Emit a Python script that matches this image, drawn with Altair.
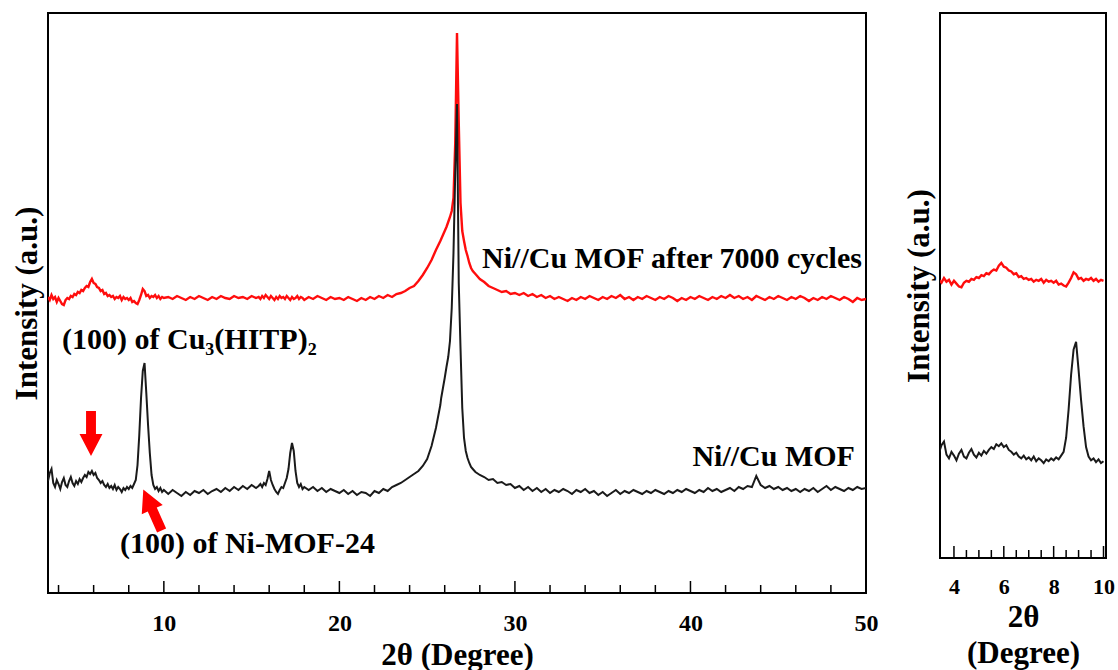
import altair as alt
import pandas as pd

FONT = "Liberation Serif"

# ---------------- data (intensity in arbitrary units) ----------------
x_a = [3.4, 3.5, 3.6, 3.7, 3.8, 3.9, 4.0, 4.1, 4.2, 4.3, 4.4, 4.5, 4.6, 4.7, 4.8, 4.9,
       5.0, 5.1, 5.2, 5.3, 5.4, 5.5, 5.6, 5.7, 5.8, 5.9, 6.0, 6.1, 6.2, 6.3, 6.4, 6.5,
       6.6, 6.7, 6.8, 6.9, 7.0, 7.1, 7.2, 7.3, 7.4, 7.5, 7.6, 7.7, 7.8, 7.9, 8.0, 8.1,
       8.2, 8.3, 8.4, 8.5, 8.6, 8.7, 8.8, 8.9, 9.0, 9.1, 9.2, 9.3, 9.4, 9.5, 9.6, 9.7,
       9.8, 9.9, 10.0]
black_a = [112, 120, 124, 110, 106, 113, 109, 104, 111, 115, 108, 106, 112, 116, 110, 107,
           112, 109, 114, 111, 115, 118, 116, 121, 119, 122, 118, 120, 115, 113, 110, 112,
           108, 106, 109, 105, 107, 104, 108, 103, 106, 104, 101, 105, 103, 106, 104, 107,
           105, 109, 113, 128, 158, 195, 222, 230, 200, 168, 140, 118, 108, 104, 106, 102,
           105, 101, 103]
red_a = [296, 293, 298, 294, 296, 291, 295, 292, 289, 288, 293, 295, 294, 297, 296, 299,
         298, 301, 300, 303, 302, 305, 307, 306, 311, 314, 310, 309, 306, 305, 302, 303,
         299, 300, 297, 298, 296, 297, 294, 296, 295, 297, 293, 296, 294, 295, 293, 295,
         291, 292, 290, 289, 293, 298, 304, 302, 297, 298, 295, 297, 296, 298, 295, 297,
         294, 296, 295]

x_b = [10.25, 10.5, 10.75, 11.0, 11.25, 11.5, 11.75, 12.0, 12.25, 12.5, 12.75, 13.0,
       13.25, 13.5, 13.75, 14.0, 14.25, 14.5, 14.75, 15.0, 15.25]
black_b = [99, 103, 100, 97, 101, 98, 102, 100, 103, 99, 102, 104,
           101, 105, 102, 106, 103, 107, 104, 108, 105]
red_b = [296, 294, 297, 295, 293, 296, 294, 297, 295, 293, 296, 294,
         297, 295, 294, 297, 295, 296, 294, 297, 295]

x_c = [15.4, 15.5, 15.6, 15.7, 15.8, 15.9, 16.0, 16.1, 16.2, 16.3, 16.4, 16.5, 16.6, 16.7,
       16.8, 16.9, 17.0, 17.1, 17.2, 17.3, 17.4, 17.5, 17.6, 17.7, 17.8, 17.9, 18.0]
black_c = [107, 109, 106, 110, 108, 114, 122, 113, 108, 104, 101, 99, 103, 106,
           105, 110, 115, 124, 140, 150, 142, 122, 110, 106, 109, 104, 106]
red_c = [296, 294, 297, 295, 298, 296, 294, 297, 295, 293, 296, 294, 297, 295,
         296, 294, 297, 295, 293, 296, 294, 295, 297, 294, 296, 295, 293]

x_d = [18.25, 18.5, 18.75, 19.0, 19.25, 19.5, 19.75, 20.0, 20.25, 20.5, 20.75, 21.0,
       21.25, 21.5, 21.75, 22.0, 22.25, 22.5, 22.75, 23.0, 23.25, 23.5, 23.75, 24.0,
       24.25, 24.5, 24.75, 25.0, 25.25, 25.5, 25.75]
black_d = [103, 106, 102, 105, 101, 104, 102, 100, 103, 99, 102, 98,
           101, 100, 97, 102, 100, 104, 102, 106, 108, 110, 113, 116,
           119, 122, 127, 134, 147, 165, 188]
red_d = [296, 294, 297, 295, 293, 296, 294, 295, 293, 296, 294, 292,
         295, 293, 296, 294, 297, 295, 298, 296, 299, 300, 302, 305,
         307, 312, 318, 325, 333, 343, 352]

x_e = [25.8, 25.9, 26.0, 26.1, 26.2, 26.3, 26.4, 26.5, 26.6, 26.7, 26.8, 26.9, 27.0,
       27.1, 27.2, 27.3, 27.4, 27.5, 27.6]
black_e = [195, 205, 215, 226, 236, 252, 285, 340, 420, 489, 310, 245, 185,
           155, 142, 135, 130, 126, 124]
red_e = [354, 358, 362, 366, 371, 376, 382, 395, 450, 560, 470, 390, 362,
         352, 343, 337, 330, 325, 322]

x_f = [27.75, 28.0, 28.25, 28.5, 28.75, 29.0, 29.25, 29.5, 29.75, 30.0,
       30.25, 30.5, 30.75, 31.0, 31.25, 31.5, 31.75, 32.0, 32.25, 32.5,
       32.75, 33.0, 33.25, 33.5, 33.75, 34.0, 34.25, 34.5, 34.75, 35.0,
       35.25, 35.5, 35.75, 36.0, 36.25, 36.5, 36.75, 37.0, 37.25, 37.5,
       37.75, 38.0, 38.25, 38.5, 38.75, 39.0, 39.25, 39.5, 39.75, 40.0,
       40.25, 40.5, 40.75, 41.0, 41.25, 41.5, 41.75, 42.0, 42.25, 42.5,
       42.75, 43.0, 43.25, 43.5, 43.75, 44.0, 44.25, 44.5, 44.75, 45.0,
       45.25, 45.5, 45.75, 46.0, 46.25, 46.5, 46.75, 47.0, 47.25, 47.5,
       47.75, 48.0, 48.25, 48.5, 48.75, 49.0, 49.25, 49.5, 49.75, 50.0]
black_f = [121, 118, 116, 113, 114, 110, 111, 108, 109, 105,
           107, 103, 106, 102, 105, 101, 104, 100, 103, 101,
           104, 102, 99, 103, 101, 104, 100, 102, 98, 101,
           97, 100, 103, 99, 102, 100, 103, 101, 99, 102,
           100, 103, 101, 99, 102, 100, 103, 101, 104, 102,
           100, 103, 101, 105, 102, 104, 101, 103, 105, 102,
           106, 104, 107, 106, 117, 108, 105, 107, 104, 106,
           103, 105, 102, 104, 101, 104, 102, 105, 101, 104,
           107, 103, 106, 104, 102, 105, 103, 106, 104, 105]
red_f = [319, 314, 311, 307, 305, 303, 301, 302, 299, 300,
         298, 300, 297, 299, 296, 298, 295, 297, 294, 296,
         294, 292, 295, 293, 296, 294, 297, 295, 293, 296,
         294, 297, 295, 298, 294, 296, 293, 296, 294, 297,
         295, 293, 296, 294, 297, 295, 292, 295, 293, 296,
         294, 297, 295, 293, 296, 294, 297, 295, 298, 295,
         297, 294, 296, 293, 297, 295, 293, 296, 294, 297,
         295, 293, 296, 294, 297, 295, 292, 295, 293, 296,
         294, 297, 295, 293, 296, 294, 291, 295, 293, 294]

# tick positions
main_major = [10, 20, 30, 40]
main_minor = [4, 6, 8, 12, 14, 16, 18, 22, 24, 26, 28, 32, 34, 36, 38, 42, 44, 46, 48]
main_labels = [10, 20, 30, 40, 50]
inset_major = [4, 6, 8, 10]
inset_minor = [4.5, 5, 5.5, 6.5, 7, 7.5, 8.5, 9, 9.5]
inset_labels = [4, 6, 8, 10]

xs = x_a + x_b + x_c + x_d + x_e + x_f
blacks = black_a + black_b + black_c + black_d + black_e + black_f
reds = red_a + red_b + red_c + red_d + red_e + red_f
df = pd.DataFrame({"x": xs, "black": blacks, "red": reds})

ARROW = "M-0.22,-1 L0.22,-1 L0.22,0.02 L0.51,0.02 L0,1 L-0.51,0.02 L-0.22,0.02 Z"

ydom = [0, 580]


def make_axes(labels, title, label_size):
    xaxis = alt.Axis(values=labels, title=title, ticks=False, tickSize=0, domain=False,
                     grid=False, labelFont=FONT, labelFontSize=label_size,
                     labelFontWeight="bold", labelPadding=18, labelFlush=False,
                     labelColor="black", titleColor="black", titleFont=FONT,
                     titleFontSize=31, titleFontWeight="bold", titlePadding=5,
                     titleLineHeight=36, format="d", labelOverlap=False)
    yaxis = alt.Axis(title="Intensity (a.u.)", labels=False, ticks=False, tickSize=0,
                     domain=False, grid=False, titleFont=FONT, titleFontSize=31,
                     titleFontWeight="bold", titleColor="black", titlePadding=5,
                     minExtent=0)
    return xaxis, yaxis


def panel(xdom, height, labels, title, major, minor, label_size, xmax=None):
    xs_ = alt.Scale(domain=xdom, nice=False, zero=False)
    ys_ = alt.Scale(domain=ydom, nice=False, zero=False)
    xaxis, yaxis = make_axes(labels, title, label_size)
    base = alt.Chart(df)
    if xmax is not None:
        base = base.transform_filter(alt.datum.x <= xmax)
    red = base.mark_line(color="#ff0d0d", strokeWidth=2.4, clip=True).encode(
        x=alt.X("x:Q", scale=xs_, axis=xaxis),
        y=alt.Y("red:Q", scale=ys_, axis=yaxis),
    )
    black = base.mark_line(color="#1a1a1a", strokeWidth=2.0, clip=True).encode(
        x=alt.X("x:Q", scale=xs_, axis=xaxis),
        y=alt.Y("black:Q", scale=ys_, axis=yaxis),
    )
    tmaj = alt.Chart(pd.DataFrame({"t": major})).mark_rule(color="black", strokeWidth=1.5).encode(
        x=alt.X("t:Q", scale=xs_, axis=xaxis),
        y=alt.value(height), y2=alt.value(height - 12),
    )
    tmin = alt.Chart(pd.DataFrame({"t": minor})).mark_rule(color="black", strokeWidth=1.5).encode(
        x=alt.X("t:Q", scale=xs_, axis=xaxis),
        y=alt.value(height), y2=alt.value(height - 8),
    )
    return [red, black, tmaj, tmin], xs_, ys_, xaxis, yaxis


main_layers, mxs, mys, mxa, mya = panel([3.4, 50], 580, main_labels, "2θ (Degree)",
                                        main_major, main_minor, 24)


def text_layer(x, y, t, align="left", size=30):
    return alt.Chart(pd.DataFrame({"x": [x], "y": [y], "t": [t]})).mark_text(
        align=align, baseline="alphabetic", font=FONT, fontSize=size,
        fontWeight="bold", color="black"
    ).encode(
        x=alt.X("x:Q", scale=mxs, axis=mxa),
        y=alt.Y("y:Q", scale=mys, axis=mya),
        text="t:N",
    )


def arrow_layer(x, y, angle):
    return alt.Chart(pd.DataFrame({"x": [x], "y": [y]})).mark_point(
        shape=ARROW, filled=True, color="#ff0000", opacity=1, size=2025,
        angle=angle, strokeWidth=0
    ).encode(
        x=alt.X("x:Q", scale=mxs, axis=mxa),
        y=alt.Y("y:Q", scale=mys, axis=mya),
    )


annotations = [
    text_layer(49.77, 325, "Ni//Cu MOF after 7000 cycles", align="right"),
    text_layer(49.37, 127, "Ni//Cu MOF", align="right"),
    text_layer(4.2, 244, "(100) of Cu₃(HITP)₂"),
    text_layer(7.5, 40, "(100) of Ni-MOF-24"),
    arrow_layer(5.85, 159.5, 0),
    arrow_layer(9.35, 83, 156),
]

main = alt.layer(*main_layers, *annotations).properties(width=818, height=580)

inset_layers, _, _, _, _ = panel([3.44, 10.1], 545, inset_labels, ["2θ", "(Degree)"],
                                 inset_major, inset_minor, 22, xmax=10.2)
inset = alt.layer(*inset_layers).properties(width=166, height=545)

chart = alt.hconcat(main, inset, spacing=23).properties(
    padding={"left": 10, "top": 12, "right": 0, "bottom": 0},
    background="white",
).configure_view(stroke="black", strokeWidth=2)

chart.save("out.html", embed_options={"renderer": "svg", "actions": False})
